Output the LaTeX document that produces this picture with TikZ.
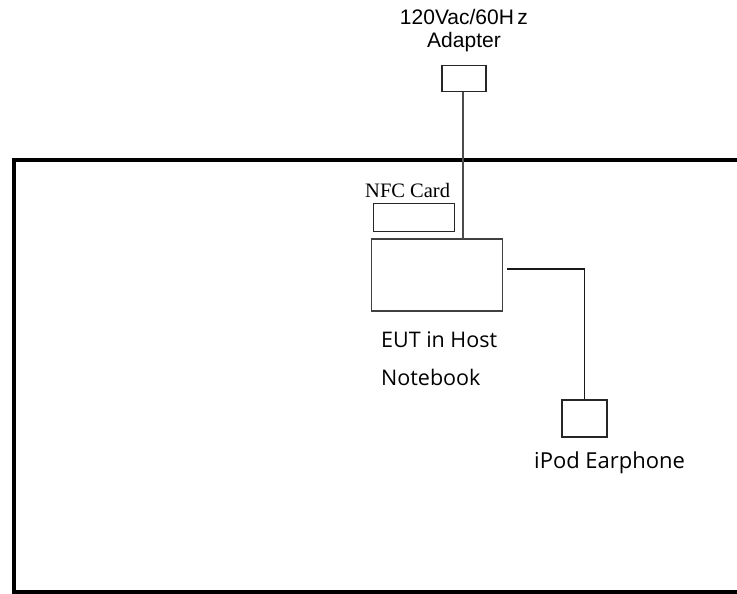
\documentclass[tikz,border=0pt]{standalone}
\usepackage{fontspec}
\setmainfont{Open Sans}
\newfontfamily\arialf{Liberation Sans}
\newfontfamily\timesf{Liberation Serif}
\begin{document}
\begin{tikzpicture}[x=1pt,y=-1pt,
  graybox/.style={draw=black!75,line width=1.6pt},
  thinbox/.style={draw=black!85,line width=1.3pt},
  wire/.style={draw=black!70,line width=1.6pt},
  lbl/.style={inner sep=0pt,anchor=base west}]
\useasboundingbox (0,0) rectangle (737,594);
\fill[white] (0,0) rectangle (737,594);
% outer room
\draw[line width=4pt,black] (740,160) -- (14,160) -- (14,592) -- (740,592);
% adapter
\node[lbl,font=\arialf\fontsize{21}{21}\selectfont,anchor=base] (adlbl1) at (464,25) {120Vac/60H\,z};
\node[lbl,font=\arialf\fontsize{21}{21}\selectfont,anchor=base] (adlbl2) at (464,48) {Adapter};
\node[thinbox,minimum width=44pt,minimum height=26pt,inner sep=0pt] (adapter) at (464,78.5) {};
% NFC card
\node[lbl,font=\timesf\fontsize{20.5}{20.5}\selectfont] (nfclbl) at (365,197) {NFC Card};
\node[thinbox,minimum width=81pt,minimum height=28pt,inner sep=0pt] (nfc) at (414,217.5) {};
% host
\node[graybox,minimum width=131pt,minimum height=72pt,inner sep=0pt] (host) at (437,275) {};
\coordinate (hosttop) at (463,239);
\draw[wire] (adapter.south -| hosttop) -- (hosttop);
% earphone
\node[thinbox,minimum width=45pt,minimum height=37pt,inner sep=0pt] (ear) at (584.5,418.5) {};
\coordinate (hostr) at (507,269);
\draw[line width=1.3pt,black!90] (hostr) -- (ear.north |- hostr) -- (ear.north);
% labels
\node[lbl,font=\fontsize{21.5}{21.5}\selectfont] (eut1) at (381,347) {EUT in Host};
\node[lbl,font=\fontsize{21.5}{21.5}\selectfont] (eut2) at (381,385) {Notebook};
\node[lbl,font=\fontsize{22}{22}\selectfont] (earlbl) at (534,468) {iPod Earphone};
\end{tikzpicture}
\end{document}
